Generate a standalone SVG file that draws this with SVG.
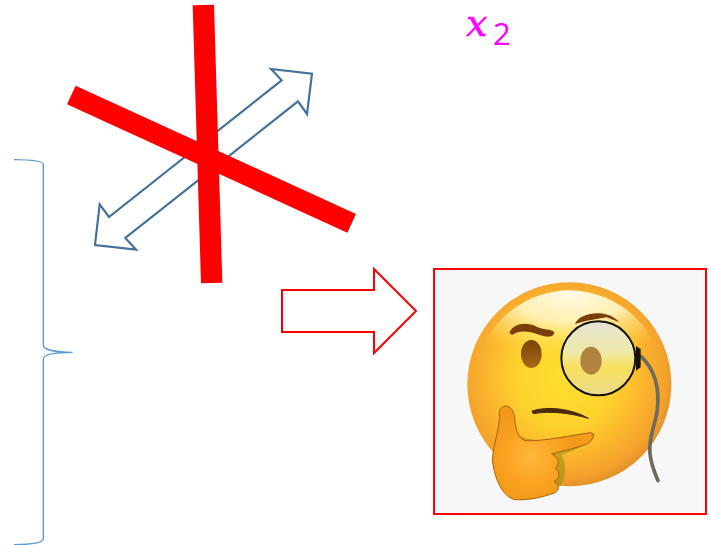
<svg xmlns="http://www.w3.org/2000/svg" width="711" height="545" viewBox="0 0 711 545">
<style>
.bar{fill:#ff0000}
.blue{fill:#fff;stroke:#41719c;stroke-width:6.5}
.x{font-family:"DejaVu Serif",serif;font-style:italic;font-size:38px;fill:#ff00ff;stroke:#ff00ff;stroke-width:.5}
.s{font-family:"Open Sans",sans-serif;font-style:normal;font-size:31px;fill:#ff00ff;stroke:none}
</style>
<defs>
<clipPath id="inner"><circle cx="418" cy="373" r="282"/></clipPath>
<radialGradient id="face" gradientUnits="userSpaceOnUse" cx="405" cy="350" r="330">
<stop offset="0" stop-color="#ffe030"/><stop offset=".45" stop-color="#fdd22c"/><stop offset=".72" stop-color="#fbb52e"/><stop offset=".92" stop-color="#f4a12c"/><stop offset="1" stop-color="#e4912a"/>
</radialGradient>
<radialGradient id="shine" cx=".5" cy=".1" r=".75">
<stop offset="0" stop-color="#fffbe6"/><stop offset=".45" stop-color="#fff5c0" stop-opacity=".9"/><stop offset="1" stop-color="#ffe34a" stop-opacity="0"/>
</radialGradient>
<radialGradient id="hand" gradientUnits="userSpaceOnUse" cx="305" cy="590" r="130">
<stop offset="0" stop-color="#ffb83c"/><stop offset=".6" stop-color="#fba422"/><stop offset="1" stop-color="#f29a1a"/>
</radialGradient>
<linearGradient id="glass" x1="0" y1="0" x2="0" y2="1">
<stop offset="0" stop-color="#e4e4d6"/><stop offset=".42" stop-color="#eee9a8"/><stop offset=".62" stop-color="#f7e05c"/><stop offset="1" stop-color="#eadc8c"/>
</linearGradient>
<linearGradient id="eye" x1="0" y1="0" x2="0" y2="1">
<stop offset="0" stop-color="#7a4308"/><stop offset="1" stop-color="#a86a14"/>
</linearGradient>
</defs>

<g id="bars-and-arrow" transform="translate(60 0) scale(.33333)">
<polygon class="blue" points="633,207 756,221 741,342 714,304 196,714 228,749 105,735 119,613 147,651 665,241"/>
<polygon class="bar" points="47,257 888,642 862,698 21,313"/>
<polygon class="bar" points="398,16 462,14 487,848 423,850"/>
</g>

<text id="label" x="466" y="35.5" class="x">x<tspan class="s" x="493" y="45">2</tspan></text>

<g id="brace" transform="translate(0 150) scale(.33333)">
<path d="M42,29C90,29 130,33 130,45V585C130,600 170,607 218,607C170,607 130,612 130,628V1165C130,1180 90,1184 42,1184" fill="none" stroke="#5b9bd5" stroke-width="4.2"/>
</g>

<g id="block-arrow">
<polygon points="282,290 374,290 374,269 416,311 374,353 374,332 282,332" fill="#fff" stroke="#ff0000" stroke-width="2"/>
</g>

<g id="emoji-box">
<rect x="434" y="269" width="272" height="245" fill="#f7f7f8" stroke="#ff0000" stroke-width="2"/>
<g transform="translate(430 260) scale(.33333)">
<circle cx="418" cy="373" r="306" fill="url(#face)"/>
<ellipse cx="420" cy="200" rx="272" ry="130" fill="url(#shine)" clip-path="url(#inner)"/>
<path d="M238,218C250,192 285,183 320,200C340,210 362,206 373,216C374,230 355,234 332,226C300,214 270,208 246,225Z" fill="#7a3f08"/>
<path d="M435,192C445,160 530,142 568,187L530,172L470,182Z" fill="#7a3f08"/>
<ellipse cx="304" cy="282" rx="31" ry="42" fill="url(#eye)"/>
<path d="M306,453C350,438 425,445 475,475C420,459 360,452 310,461Z" fill="#4a2a08" stroke="#4a2a08" stroke-width="3"/>
<path d="M634,290C670,325 690,380 682,450C675,500 655,530 660,580C663,615 675,640 684,662" fill="none" stroke="#6e6a5e" stroke-width="11" stroke-linecap="round"/>
<circle cx="505" cy="295" r="111" fill="url(#glass)" stroke="#15120a" stroke-width="6"/>
<ellipse cx="483" cy="302" rx="32" ry="42" fill="#b08440"/>
<path d="M618,258L632,268L632,322L618,332Z" fill="#15120a"/>
<path d="M258,520C290,545 340,545 400,530C430,525 470,515 495,522C490,550 440,568 395,585C410,610 410,650 390,680L250,620Z" fill="#8a8a10" opacity=".5"/>
<path d="M228,438C245,440 252,455 254,475C256,505 262,532 285,542C340,545 430,525 482,518C497,520 490,540 470,553C435,565 400,572 365,582C385,592 392,610 376,625C392,635 390,655 372,665C390,675 388,690 375,698C340,712 290,722 255,719C220,710 195,665 187,600C190,550 212,500 208,455C210,445 218,438 228,438Z" fill="url(#hand)" stroke="#a8620c" stroke-width="3"/>
</g>
</g>
</svg>
